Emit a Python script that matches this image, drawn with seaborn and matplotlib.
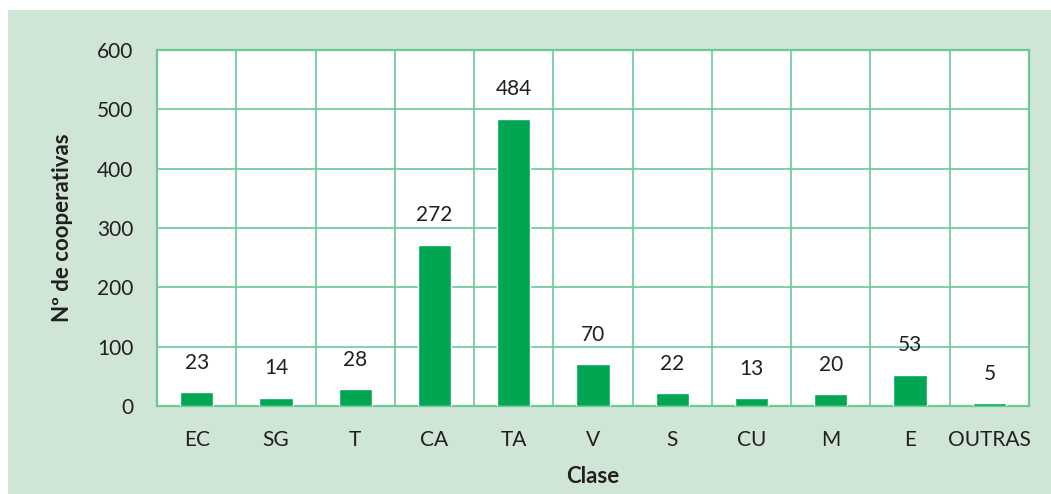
import matplotlib
matplotlib.use("Agg")
import matplotlib.pyplot as plt
import matplotlib.patches as patches
import pandas as pd
import seaborn as sns

# --- Data ---
CLASES = ["EC", "SG", "T", "CA", "TA", "V", "S", "CU", "M", "E", "OUTRAS"]
COOPERATIVAS = [23, 14, 28, 272, 484, 70, 22, 13, 20, 53, 5]
Y_TICKS = [0, 100, 200, 300, 400, 500, 600]

PANEL_BG = "#cfe6d6"
BAR_GREEN = "#00a651"
GRID_GREEN = "#6cc996"
TEXT = "#231f20"

sns.set_style("white")
plt.rcParams["font.family"] = ["Lato", "DejaVu Sans"]

df = pd.DataFrame({"clase": CLASES, "n": COOPERATIVAS})

fig = plt.figure(figsize=(10.51, 4.94), dpi=100, facecolor="white")
# light green panel behind the chart
fig.patches.append(patches.Rectangle((8 / 1051, 0), 1 - 8 / 1051, 1 - 10 / 494,
                                     transform=fig.transFigure, facecolor=PANEL_BG,
                                     edgecolor="none", zorder=-10))

ax = fig.add_axes([157 / 1051, 88 / 494, (1029 - 157) / 1051, (406 - 50) / 494])
ax.set_facecolor("white")

sns.barplot(data=df, x="clase", y="n", color=BAR_GREEN, width=0.42,
            saturation=1, ax=ax, zorder=3)

ax.set_ylim(0, 600)
ax.set_xlim(-0.5, len(CLASES) - 0.5)
ax.set_yticks(Y_TICKS)

# grid: horizontal at y ticks, vertical between categories
ax.set_xticks([i + 0.5 for i in range(len(CLASES) - 1)], minor=True)
ax.grid(True, axis="y", which="major", color=GRID_GREEN, linewidth=1.2, zorder=1)
ax.grid(True, axis="x", which="minor", color=GRID_GREEN, linewidth=1.2, zorder=1)
ax.grid(False, axis="x", which="major")
ax.set_axisbelow(True)
for s in ax.spines.values():
    s.set_color(GRID_GREEN)
    s.set_linewidth(1.6)

ax.tick_params(axis="both", which="both", length=0, labelsize=15, colors=TEXT)
ax.tick_params(axis="x", pad=17)
ax.tick_params(axis="y", pad=17)

ax.bar_label(ax.containers[0], labels=[str(v) for v in COOPERATIVAS],
             padding=14, fontsize=15, color=TEXT)

ax.set_xlabel("Clase", fontsize=16, fontweight="bold", color=TEXT, labelpad=12)
ax.set_ylabel("Nº de cooperativas", fontsize=16, fontweight="bold", color=TEXT, labelpad=17)

fig.savefig("out.png", dpi=100, facecolor=fig.get_facecolor())
